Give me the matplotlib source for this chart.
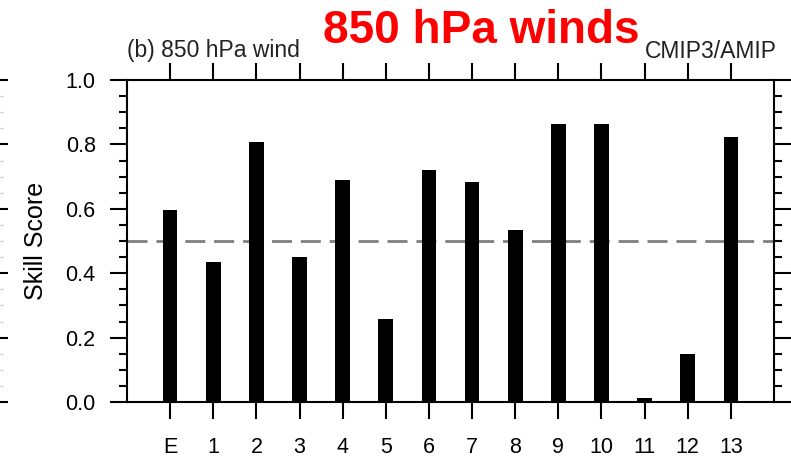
import matplotlib
matplotlib.use('Agg')
import matplotlib.pyplot as plt
from matplotlib.ticker import MultipleLocator

plt.rcParams['font.family'] = ['Liberation Sans', 'DejaVu Sans']

# skill scores
models = ['E', '1', '2', '3', '4', '5', '6', '7', '8', '9', '10', '11', '12', '13']
skill = [0.596, 0.436, 0.808, 0.451, 0.690, 0.257, 0.721, 0.682, 0.534,
         0.862, 0.864, 0.013, 0.150, 0.824]
threshold = 0.5
yticks = [0.0, 0.2, 0.4, 0.6, 0.8, 1.0]

W, H = 791, 458
fig = plt.figure(figsize=(W / 100, H / 100), dpi=100)
ax = fig.add_axes([127 / W, 1 - 402 / H, (774 - 127) / W, (402 - 80) / H])

x = list(range(len(models)))
ax.bar(x, skill, width=0.34, color='black', zorder=3)
ax.axhline(threshold, color='#7f7f7f', lw=2, dashes=(7.2, 3.2), zorder=2)

ax.set_xlim(-1, len(models))
ax.set_ylim(0, 1.0)
ax.set_xticks(x)
ax.set_xticklabels(models)
ax.set_yticks(yticks)
ax.set_yticklabels(['%.1f' % v for v in yticks])
ax.yaxis.set_minor_locator(MultipleLocator(0.05))

ax.tick_params(axis='both', which='major', direction='out', length=12.5, width=1.5,
               labelsize=15.5, colors='black')
ax.tick_params(axis='y', which='major', pad=10)
ax.tick_params(axis='x', which='major', pad=13)
ax.tick_params(axis='y', which='minor', direction='out', length=6, width=1.5)
ax.tick_params(top=True, right=True, which='both')
for s in ax.spines.values():
    s.set_linewidth(1.5)

ax.set_ylabel('Skill Score', fontsize=18)
ax.yaxis.set_label_coords(-0.122, 0.5)

ax.text(0.0, 1.071, '(b) 850 hPa wind', transform=ax.transAxes, fontsize=16.5,
        ha='left', va='baseline', color='#222222')
ax.text(1.0046, 1.068, 'CMIP3/AMIP', transform=ax.transAxes, fontsize=16.5,
        ha='right', va='baseline', color='#222222')

fig.text(481 / W, 1 - 43 / H, '850 hPa winds', fontsize=33, fontweight='bold',
         color='#ff0000', ha='center', va='baseline')

# edge of the neighbouring panel, cut off at the left border
ax2 = fig.add_axes([-0.2, 1 - 402 / H, 0.2, (402 - 80) / H])
ax2.set_ylim(0, 1.0)
ax2.set_xticks([])
ax2.yaxis.tick_right()
ax2.set_yticks(yticks)
ax2.set_yticklabels([])
ax2.yaxis.set_minor_locator(MultipleLocator(0.05))
ax2.tick_params(axis='y', which='major', direction='out', length=6, width=1.5)
ax2.tick_params(axis='y', which='minor', direction='out', length=2, width=1, colors='#cccccc')
for s in ax2.spines.values():
    s.set_visible(False)
ax2.patch.set_visible(False)

fig.savefig('out.png', dpi=100)
